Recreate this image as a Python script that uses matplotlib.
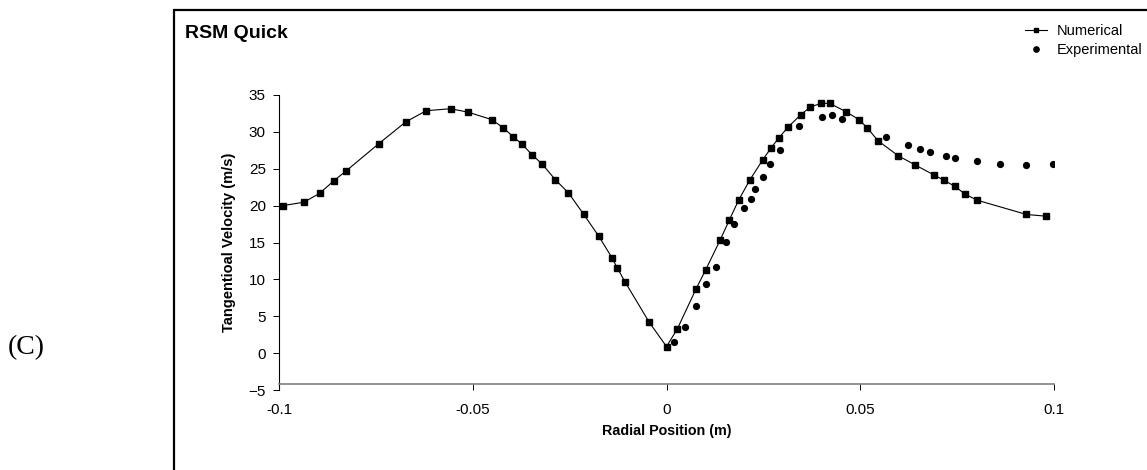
#!/usr/bin/env python3
"""RSM Quick: tangential velocity profile, numerical vs experimental."""
import matplotlib
matplotlib.use("Agg")
import matplotlib.pyplot as plt
from matplotlib.lines import Line2D
from matplotlib.patches import Rectangle

# numerical (squares, joined)
num_x = [-0.099, -0.0936, -0.0895, -0.0859, -0.0826, -0.0742, -0.0673, -0.0620,
         -0.0557, -0.0511, -0.0451, -0.0422, -0.0396, -0.0372, -0.0347, -0.0321,
         -0.0287, -0.0253, -0.0214, -0.0175, -0.0141, -0.0127, -0.0107, -0.0045,
         0.0, 0.0028, 0.0076, 0.0101, 0.0138, 0.0162, 0.0186, 0.0215, 0.0248,
         0.0270, 0.0290, 0.0314, 0.0347, 0.0371, 0.0399, 0.0421, 0.0463, 0.0497,
         0.0518, 0.0546, 0.0598, 0.0642, 0.0690, 0.0715, 0.0744, 0.0771, 0.0802,
         0.0929, 0.0979]
num_v = [20.0, 20.46, 21.67, 23.35, 24.74, 28.42, 31.35, 32.87,
         33.14, 32.66, 31.66, 30.58, 29.37, 28.29, 26.90, 25.64,
         23.52, 21.73, 18.84, 15.87, 12.96, 11.55, 9.66, 4.22,
         0.89, 3.28, 8.68, 11.28, 15.29, 18.03, 20.73, 23.48, 26.18,
         27.84, 29.19, 30.67, 32.34, 33.37, 33.87, 33.87, 32.74, 31.66,
         30.54, 28.79, 26.76, 25.51, 24.16, 23.48, 22.62, 21.54, 20.73,
         18.80, 18.57]

# experimental (dots)
exp_x = [0.0019, 0.0047, 0.0076, 0.0101, 0.0128, 0.0154, 0.0175, 0.0201,
         0.0217, 0.0228, 0.0249, 0.0267, 0.0294, 0.0342, 0.0400, 0.0428,
         0.0454, 0.0567, 0.0624, 0.0655, 0.0679, 0.0721, 0.0744, 0.0800,
         0.0861, 0.0929, 0.0998]
exp_v = [1.48, 3.51, 6.38, 9.39, 11.74, 15.02, 17.45, 19.74,
         20.86, 22.21, 23.89, 25.64, 27.57, 30.85, 32.07, 32.25,
         31.79, 29.33, 28.24, 27.71, 27.30, 26.72, 26.45, 26.05,
         25.68, 25.51, 25.68]

x_ticks = [-0.1, -0.05, 0, 0.05, 0.1]
x_tick_labels = ["-0.1", "-0.05", "0", "0.05", "0.1"]
y_ticks = [-5, 0, 5, 10, 15, 20, 25, 30, 35]

W, H = 1147, 470

plt.rcParams["font.family"] = ["Liberation Sans", "DejaVu Sans"]

fig = plt.figure(figsize=(W / 100, H / 100), dpi=100)
ax = fig.add_axes([279 / W, 1 - 390 / H, (1054 - 279) / W, (390 - 95) / H])

ax.plot(num_x, num_v, color="black", linewidth=0.8, marker="s",
        markersize=4.6, markerfacecolor="black", markeredgecolor="black")
ax.plot(exp_x, exp_v, linestyle="none", marker="o", markersize=4.2,
        color="black")

ax.set_xlim(-0.1, 0.1)
ax.set_ylim(-5, 35)
ax.set_xticks(x_ticks)
ax.set_xticklabels(x_tick_labels)
ax.set_yticks(y_ticks)

ax.spines["top"].set_visible(False)
ax.spines["right"].set_visible(False)
ax.spines["bottom"].set_position(("data", -4.2))
ax.spines["bottom"].set_color("#808080")
ax.spines["bottom"].set_linewidth(1.2)
ax.spines["left"].set_linewidth(0.8)
ax.tick_params(axis="both", direction="out", length=4.5, width=0.7,
               labelsize=11, colors="black")
ax.tick_params(axis="x", pad=9)
ax.tick_params(axis="y", pad=5)

ax.set_ylabel("Tangentioal Velocity (m/s)", fontsize=10.5, fontweight="bold",
              labelpad=9)
ax.set_xlabel("Radial Position (m)", fontsize=10.3, fontweight="bold",
              labelpad=5)

# outer frame, cut off on the right and bottom like the source
fig.patches.append(Rectangle((174 / W, -0.05), 1.0, 1 - 10 / H + 0.05,
                             transform=fig.transFigure, fill=False,
                             edgecolor="black", linewidth=1.6))

fig.text(185 / W, 1 - 34 / H, "RSM Quick", fontsize=14, fontweight="bold",
         va="center", ha="left")
fig.text(8 / W, 1 - 348 / H, "(C)", fontsize=20, va="center", ha="left",
         family=["Liberation Serif", "DejaVu Serif"])

handles = [
    Line2D([], [], color="black", linewidth=0.8, marker="s", markersize=3.5),
    Line2D([], [], color="black", linestyle="none", marker="o", markersize=3.8),
]
fig.legend(handles, ["Numerical", "Experimental"], loc="upper left",
           bbox_to_anchor=(1025 / W, 1 - 24 / H), frameon=False, fontsize=10.5,
           handlelength=1.5, handletextpad=0.7, labelspacing=0.37,
           borderpad=0, borderaxespad=0)

fig.savefig("out.png", dpi=100)
